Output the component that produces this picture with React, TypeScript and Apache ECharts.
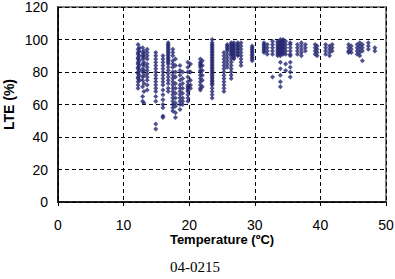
import React, { useEffect, useRef } from "react";
import * as echarts from "echarts";

// Each column: [temperature (ºC), LTE values (%)]
const columnsBelow20: [number, number[]][] = [
  [12.2, [97, 94, 92, 91, 89, 88, 86, 85, 83, 82, 80, 79, 77, 76, 74, 72, 70]],
  [12.4, [95, 93, 90, 87, 84, 81, 78, 75]],
  [12.9, [95, 92, 90, 88, 85, 82, 80, 77, 75, 71, 65, 62]],
  [13.1, [93, 91, 89, 86, 84, 81, 78, 73, 68, 61]],
  [13.6, [94, 92, 90, 88, 85, 83, 81, 79, 77, 75, 72, 69]],
  [14.9, [92, 90, 88, 86, 84, 82, 80, 78, 76, 74, 72, 70, 68, 65, 62, 48, 45]],
  [16.0, [90, 88, 86, 84, 82, 80, 78, 76, 74, 72, 69, 66, 63, 60, 58, 53, 52]],
  [16.8, [98, 97, 96, 95, 94, 93, 92, 91, 90, 89, 88, 87, 86, 85, 83, 81, 79, 77, 75, 73, 70, 68]],
  [17.5, [94, 92, 90, 87, 85, 83, 80, 78, 76, 74, 72, 70, 68, 66, 64, 62, 60, 58, 56]],
  [17.9, [88, 84, 80, 77, 73, 70, 67, 64, 61, 59, 55, 52]],
  [18.6, [84, 81, 78, 75, 72, 70, 68, 66, 64, 62, 60, 57]],
  [19.0, [80, 76, 73, 70, 67, 64, 62, 60]],
  [19.8, [86, 83, 80, 77, 74, 72, 71, 70, 69, 68, 66, 64, 62]],
  [20.2, [85, 80, 75, 72, 70]],
];

const columns20to30: [number, number[]][] = [
  [21.7, [88, 86, 85, 84, 83, 81, 80, 78, 76, 74, 72, 70, 69]],
  [22.0, [87, 84, 81, 78, 75, 71]],
  [23.5, [100, 98, 97, 96, 95, 94, 93, 92, 91, 90, 89, 88, 87, 86, 85, 84, 83, 82, 81, 80, 79, 78, 77, 76, 75, 74, 73, 72, 70, 68, 66, 64]],
  [25.3, [92, 90, 88, 86, 84, 82, 80, 78, 76, 74, 72, 70, 68]],
  [25.8, [97, 96, 95, 94, 93, 91, 89, 87, 85, 83]],
  [26.4, [98, 97, 96, 95, 94, 93, 92, 91, 90, 88, 86, 84, 82, 80, 78, 76]],
  [26.8, [98, 97, 96, 95, 94, 93, 92, 91, 90, 89, 88]],
  [27.4, [98, 97, 96, 95, 94, 93, 92, 91, 90]],
  [27.9, [98, 96, 94, 92, 90, 88, 86, 84]],
  [29.6, [96, 95, 94, 93, 92, 91, 90, 89, 88, 87]],
];

const columnsAbove30: [number, number[]][] = [
  [31.4, [98, 97, 96, 95, 94, 93, 92]],
  [31.9, [97, 95, 93, 91]],
  [32.7, [99, 97, 95, 93, 91, 77]],
  [33.5, [99, 98, 97, 96, 95, 94, 93, 92, 91, 90]],
  [33.9, [100, 99, 98, 97, 96, 95, 94, 93, 92, 91, 90, 86, 82, 78, 74, 71]],
  [34.3, [100, 99, 98, 97, 96, 95, 94, 93, 92, 91]],
  [34.7, [99, 97, 95, 93, 91, 85, 81]],
  [35.4, [98, 97, 95, 93, 91, 90, 86, 83, 80, 77]],
  [36.5, [97, 95, 93, 91]],
  [37.1, [98, 96, 94, 92, 90]],
  [37.7, [97, 95, 93]],
  [39.2, [97, 95, 93, 91]],
  [39.5, [96, 94, 92, 90]],
  [40.8, [97, 95, 93, 91]],
  [41.4, [96, 94, 92, 90]],
  [41.8, [97, 95, 93]],
  [44.3, [97, 95, 93, 92]],
  [44.7, [96, 94, 92]],
  [45.6, [97, 95, 93, 91]],
  [46.0, [98, 96, 94, 92, 90]],
  [46.4, [97, 95, 93, 87]],
  [47.3, [98, 96, 94]],
  [48.3, [95, 93]],
];

const xTicks = [0, 10, 20, 30, 40, 50];
const yTicks = [0, 20, 40, 60, 80, 100, 120];
const xTitle = "Temperature (ºC)";
const yTitle = "LTE (%)";
const footnote = "04-0215";

const toPoints = (cols: [number, number[]][]) =>
  cols.flatMap(([t, vals]) => vals.map((v) => [t, v]));

export default function App() {
  const ref = useRef<HTMLDivElement>(null);
  useEffect(() => {
    if (!ref.current) return;
    const chart = echarts.init(ref.current, null, { renderer: "svg" });
    const data = [
      ...toPoints(columnsBelow20),
      ...toPoints(columns20to30),
      ...toPoints(columnsAbove30),
    ];
    const font = "Liberation Sans, Arial, sans-serif";
    chart.setOption({
      animation: false,
      grid: {
        left: 58,
        right: 9,
        top: 7,
        bottom: 77,
        containLabel: false,
        outerBoundsMode: "none",
        show: true,
        borderColor: "#808080",
        borderWidth: 2,
        backgroundColor: "transparent",
      },
      xAxis: {
        type: "value",
        min: xTicks[0],
        max: xTicks[xTicks.length - 1],
        interval: 10,
        name: xTitle,
        nameLocation: "middle",
        nameGap: 31,
        nameMoveOverlap: false,
        nameTextStyle: { fontFamily: font, fontSize: 13, fontWeight: "bold", color: "#000" },
        axisLine: { show: true, lineStyle: { color: "#000", width: 1.5 } },
        axisTick: { show: true, length: 4, lineStyle: { color: "#000" } },
        axisLabel: { fontFamily: font, fontSize: 14, color: "#000", margin: 16 },
        splitLine: { show: true, lineStyle: { color: "#000", type: [4, 3], width: 1 } },
      },
      yAxis: {
        type: "value",
        min: yTicks[0],
        max: yTicks[yTicks.length - 1],
        interval: 20,
        name: yTitle,
        nameLocation: "middle",
        nameGap: 42,
        nameMoveOverlap: false,
        nameRotate: 90,
        nameTextStyle: { fontFamily: font, fontSize: 14, fontWeight: "bold", color: "#000" },
        axisLine: { show: true, lineStyle: { color: "#000", width: 1.5 } },
        axisTick: { show: false },
        axisLabel: { fontFamily: font, fontSize: 14, color: "#000", margin: 10 },
        splitLine: { show: true, lineStyle: { color: "#000", type: [4, 3], width: 1 } },
      },
      series: [
        {
          type: "scatter",
          data,
          symbol: "diamond",
          symbolSize: 5,
          itemStyle: { color: "#262872" },
        },
      ],
      graphic: [
        {
          type: "text",
          left: 170,
          top: 259,
          style: {
            text: footnote,
            fontFamily: "Liberation Serif, Times New Roman, serif",
            fontSize: 15,
            fill: "#000",
          },
        },
      ],
    });
    return () => chart.dispose();
  }, []);
  return <div ref={ref} style={{ width: 395, height: 279, position: "absolute", left: 0, top: 0 }} />;
}
